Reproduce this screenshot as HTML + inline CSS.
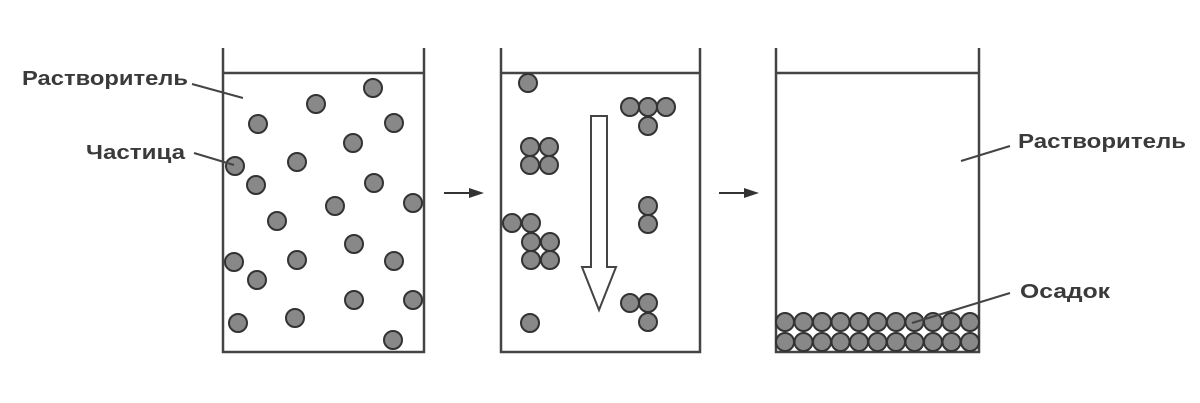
<!DOCTYPE html>
<html><head><meta charset="utf-8"><style>html,body{margin:0;padding:0;background:#fff}svg{display:block}</style></head>
<body>
<svg width="1200" height="403" viewBox="0 0 1200 403" xmlns="http://www.w3.org/2000/svg">
<g stroke="#444" stroke-width="2.5" fill="none">
<path d="M223 48 V352 H424 V48 M223 73 H424"/>
<path d="M501 48 V352 H700 V48 M501 73 H700"/>
<path d="M776 48 V352 H979 V48 M776 73 H979"/>
</g>
<g fill="#888" stroke="#333" stroke-width="2">
<circle cx="373" cy="88" r="9"/><circle cx="316" cy="104" r="9"/><circle cx="258" cy="124" r="9"/><circle cx="394" cy="123" r="9"/><circle cx="353" cy="143" r="9"/><circle cx="235" cy="166" r="9"/><circle cx="297" cy="162" r="9"/><circle cx="256" cy="185" r="9"/><circle cx="374" cy="183" r="9"/><circle cx="335" cy="206" r="9"/><circle cx="413" cy="203" r="9"/><circle cx="277" cy="221" r="9"/><circle cx="354" cy="244" r="9"/><circle cx="234" cy="262" r="9"/><circle cx="297" cy="260" r="9"/><circle cx="394" cy="261" r="9"/><circle cx="257" cy="280" r="9"/><circle cx="354" cy="300" r="9"/><circle cx="413" cy="300" r="9"/><circle cx="238" cy="323" r="9"/><circle cx="295" cy="318" r="9"/><circle cx="393" cy="340" r="9"/>
<circle cx="528" cy="83" r="9"/>
<circle cx="630" cy="107" r="9"/><circle cx="648" cy="107" r="9"/><circle cx="666" cy="107" r="9"/><circle cx="648" cy="126" r="9"/>
<circle cx="530" cy="147" r="9"/><circle cx="549" cy="147" r="9"/><circle cx="530" cy="165" r="9"/><circle cx="549" cy="165" r="9"/>
<circle cx="512" cy="223" r="9"/><circle cx="531" cy="223" r="9"/>
<circle cx="531" cy="242" r="9"/><circle cx="550" cy="242" r="9"/><circle cx="531" cy="260" r="9"/><circle cx="550" cy="260" r="9"/>
<circle cx="648" cy="206" r="9"/><circle cx="648" cy="224" r="9"/>
<circle cx="630" cy="303" r="9"/><circle cx="648" cy="303" r="9"/><circle cx="648" cy="322" r="9"/>
<circle cx="530" cy="323" r="9"/>
<circle cx="785" cy="322" r="9"/><circle cx="803.5" cy="322" r="9"/><circle cx="822" cy="322" r="9"/><circle cx="840.5" cy="322" r="9"/><circle cx="859" cy="322" r="9"/><circle cx="877.5" cy="322" r="9"/><circle cx="896" cy="322" r="9"/><circle cx="914.5" cy="322" r="9"/><circle cx="933" cy="322" r="9"/><circle cx="951.5" cy="322" r="9"/><circle cx="970" cy="322" r="9"/>
<circle cx="785" cy="342" r="9"/><circle cx="803.5" cy="342" r="9"/><circle cx="822" cy="342" r="9"/><circle cx="840.5" cy="342" r="9"/><circle cx="859" cy="342" r="9"/><circle cx="877.5" cy="342" r="9"/><circle cx="896" cy="342" r="9"/><circle cx="914.5" cy="342" r="9"/><circle cx="933" cy="342" r="9"/><circle cx="951.5" cy="342" r="9"/><circle cx="970" cy="342" r="9"/>
</g>
<path d="M591 116 H607 V267 H616 L599 310 L582 267 H591 Z" fill="#fff" stroke="#444" stroke-width="2"/>
<g stroke="#333" stroke-width="2">
<line x1="444" y1="193" x2="472" y2="193"/><line x1="719" y1="193" x2="747" y2="193"/>
</g>
<g fill="#333"><path d="M484 193 L469 188 L469 198 Z"/><path d="M759 193 L744 188 L744 198 Z"/></g>
<g stroke="#444" stroke-width="2">
<line x1="192" y1="84" x2="243" y2="98"/>
<line x1="194" y1="153" x2="234" y2="165"/>
<line x1="1010" y1="146" x2="961" y2="161"/>
<line x1="1010" y1="293" x2="912" y2="323"/>
</g>
<g font-family="Liberation Sans, sans-serif" font-size="20" font-weight="bold" fill="#3a3a3a">
<text x="22" y="85" textLength="166" lengthAdjust="spacingAndGlyphs">Растворитель</text>
<text x="86" y="159" textLength="99" lengthAdjust="spacingAndGlyphs">Частица</text>
<text x="1018" y="148" textLength="168" lengthAdjust="spacingAndGlyphs">Растворитель</text>
<text x="1020" y="298" textLength="90" lengthAdjust="spacingAndGlyphs">Осадок</text>
</g>
</svg>
</body></html>
